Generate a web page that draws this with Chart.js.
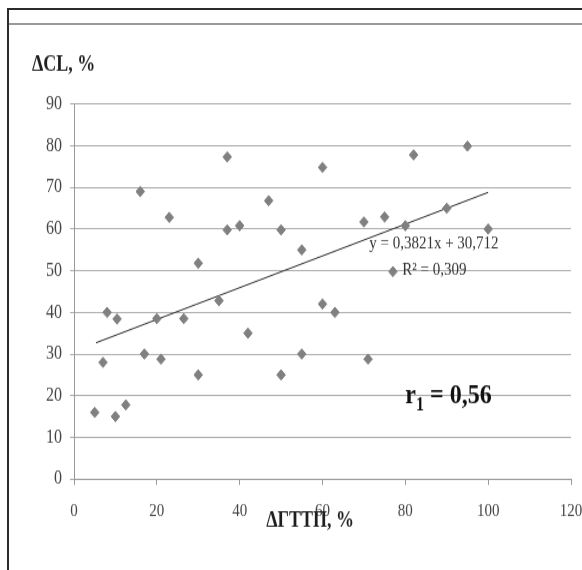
<!DOCTYPE html>
<html>
<head>
<meta charset="utf-8">
<title>ΔCL vs ΔГТТП</title>
<script src="https://cdn.jsdelivr.net/npm/chart.js@4.4.0/dist/chart.umd.min.js"></script>
<style>
    html, body { margin: 0; padding: 0; background: #fff; }
    #wrap { position: relative; width: 582px; height: 570px; overflow: hidden; background: #fff; }
    /* the original figure is stretched vertically, so the chart is too */
    #chart { position: absolute; left: 0; top: 0; transform: scaleY(1.2); transform-origin: 0 0; }
    .frame { position: absolute; }
</style>
</head>
<body>
<div id="wrap">
    <canvas id="chart" width="582" height="475"></canvas>
    <div class="frame" style="left:7px;top:8px;width:575px;height:2px;background:#2b2b2b"></div>
    <div class="frame" style="left:7px;top:23px;width:575px;height:2px;background:#9a9a9a"></div>
    <div class="frame" style="left:7px;top:8px;width:2px;height:562px;background:#2b2b2b"></div>
</div>
<script>
// Scatter points (ΔГТТП, % ; ΔCL, %)
const xValues = [5, 7, 8, 10.4, 10, 12.5, 16, 17, 20, 21, 23, 26.5, 30, 30, 35, 37, 37, 40, 42, 47, 50, 50, 55, 55, 60, 60, 63, 70, 71, 75, 77, 80, 82, 90, 95, 100];
const yValues = [16, 28, 40, 38.4, 15, 17.8, 69, 30, 38.5, 28.8, 62.8, 38.5, 51.8, 25, 42.8, 77.3, 59.8, 60.8, 35, 66.8, 59.8, 25, 55, 30, 74.8, 42, 40, 61.7, 28.8, 62.9, 49.8, 60.8, 77.8, 65, 79.9, 60];

// Linear trend line ends
const trendX = [5.3, 100];
const trendY = [32.7, 68.8];

// Axis ranges / ticks
const xTicks = [0, 20, 40, 60, 80, 100, 120];
const yTicks = [0, 10, 20, 30, 40, 50, 60, 70, 80, 90];

// Texts
const yTitle = 'ΔCL, %';
const xTitle = 'ΔГТТП, %';
const equation = 'y = 0,3821x + 30,712';
const rSquared = 'R² = 0,309';

const serif = '"Liberation Serif", "Times New Roman", serif';

const points = xValues.map((x, i) => ({ x: x, y: yValues[i] }));
const trend = trendX.map((x, i) => ({ x: x, y: trendY[i] }));

/**
 * Draws the axis titles, the equation and the r1 label
 */
const annotations = {
    id: 'annotations',
    afterDatasetsDraw(chart) {
        const { ctx, chartArea, scales: { x, y } } = chart;
        ctx.save();

        // axis titles
        ctx.fillStyle = '#1f1f1f';
        ctx.font = 'bold 18px ' + serif;
        ctx.textBaseline = 'middle';
        ctx.textAlign = 'left';
        ctx.fillText(yTitle, 32, 54);
        ctx.textAlign = 'center';
        ctx.fillText(xTitle, x.getPixelForValue(57), chartArea.bottom + 35);

        // trend equation
        ctx.fillStyle = '#333';
        ctx.font = '15px ' + serif;
        ctx.fillText(equation, x.getPixelForValue(86.9), y.getPixelForValue(56.4));
        ctx.fillText(rSquared, x.getPixelForValue(87), y.getPixelForValue(50.1));

        // r1 = 0,56
        ctx.fillStyle = '#111';
        ctx.textAlign = 'left';
        ctx.textBaseline = 'alphabetic';
        let px = x.getPixelForValue(80);
        const py = y.getPixelForValue(18.2);
        ctx.font = 'bold 24px ' + serif;
        ctx.fillText('r', px, py);
        px += ctx.measureText('r').width;
        ctx.font = 'bold 16px ' + serif;
        ctx.fillText('1', px, py + 6);
        px += ctx.measureText('1').width;
        ctx.font = 'bold 24px ' + serif;
        ctx.fillText(' = 0,56', px, py);

        ctx.restore();
    }
};

const chart = new Chart(document.getElementById('chart').getContext('2d'), {
    type: 'scatter',
    data: {
        datasets: [{
            type: 'line',
            data: trend,
            borderColor: '#2a2a2a',
            borderWidth: 1,
            pointRadius: 0,
            fill: false,
            order: 2
        }, {
            data: points,
            pointStyle: 'rectRot',
            pointRadius: 4.3,
            pointBackgroundColor: '#808080',
            pointBorderColor: '#808080',
            pointBorderWidth: 1,
            order: 1
        }]
    },
    options: {
        responsive: false,
        animation: false,
        layout: { padding: { top: 86.7, right: 0, bottom: 0, left: 0 } },
        plugins: {
            legend: { display: false },
            tooltip: { enabled: false }
        },
        scales: {
            x: {
                type: 'linear',
                min: xTicks[0],
                max: xTicks[xTicks.length - 1],
                afterBuildTicks: (scale) => { scale.ticks = xTicks.map(v => ({ value: v })); },
                afterFit: (scale) => {
                    scale.height = 475 - 399.2;
                    scale.paddingRight = 11;
                    scale.paddingLeft = 0;
                },
                ticks: {
                    color: '#444',
                    padding: 13,
                    font: { family: serif, size: 15 }
                },
                grid: {
                    drawOnChartArea: false,
                    drawTicks: true,
                    tickLength: 5,
                    color: '#999'
                },
                border: { color: '#999' }
            },
            y: {
                min: yTicks[0],
                max: yTicks[yTicks.length - 1],
                afterBuildTicks: (scale) => { scale.ticks = yTicks.map(v => ({ value: v })); },
                afterFit: (scale) => { scale.width = 74; },
                ticks: {
                    color: '#444',
                    padding: 8,
                    font: { family: serif, size: 16 }
                },
                grid: {
                    color: '#ababab',
                    tickLength: 4
                },
                border: { color: '#999' }
            }
        }
    },
    plugins: [annotations]
});
</script>
</body>
</html>
